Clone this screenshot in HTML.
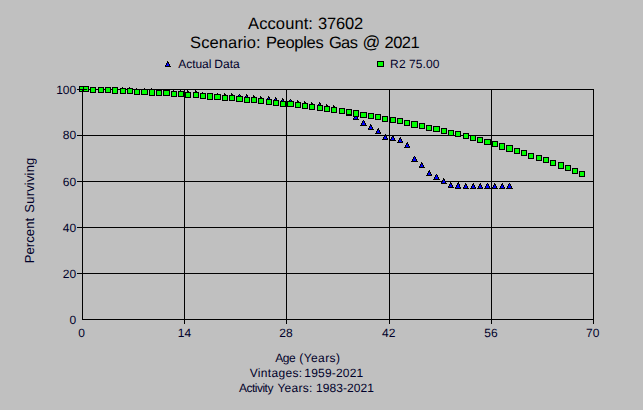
<!DOCTYPE html>
<html lang="en">
<head>
<meta charset="utf-8">
<title>Account 37602 - Percent Surviving</title>
<style>
html,body{margin:0;padding:0;background:#c0c0c0;overflow:hidden;}
body{width:643px;height:410px;font-family:"Liberation Sans",sans-serif;}
svg{display:block;position:absolute;left:0;top:0;}
</style>
</head>
<body>
<svg width="643" height="410" viewBox="0 0 643 410" shape-rendering="crispEdges">
<rect x="0" y="0" width="643" height="410" fill="#c0c0c0"/>
<g fill="#000">
<rect x="82" y="89" width="1" height="231"/>
<rect x="184" y="89" width="1" height="235"/>
<rect x="286" y="89" width="1" height="235"/>
<rect x="389" y="89" width="1" height="235"/>
<rect x="491" y="89" width="1" height="235"/>
<rect x="593" y="89" width="1" height="235"/>
<rect x="77" y="89" width="517" height="1"/>
<rect x="77" y="135" width="517" height="1"/>
<rect x="77" y="181" width="517" height="1"/>
<rect x="77" y="227" width="517" height="1"/>
<rect x="77" y="273" width="517" height="1"/>
<rect x="82" y="319" width="512" height="1"/>
</g>
<g>
<rect x="81" y="86" width="1" height="1" fill="#000"/><rect x="81" y="87" width="2" height="1" fill="#000"/><rect x="80" y="88" width="1" height="1" fill="#000"/><rect x="81" y="88" width="1" height="1" fill="#00f"/><rect x="82" y="88" width="1" height="1" fill="#000"/><rect x="80" y="89" width="1" height="1" fill="#000"/><rect x="81" y="89" width="2" height="1" fill="#00f"/><rect x="83" y="89" width="1" height="1" fill="#000"/><rect x="79" y="90" width="1" height="1" fill="#000"/><rect x="80" y="90" width="3" height="1" fill="#00f"/><rect x="83" y="90" width="1" height="1" fill="#000"/><rect x="79" y="91" width="6" height="1" fill="#000"/>
<rect x="85" y="86" width="1" height="1" fill="#000"/><rect x="85" y="87" width="2" height="1" fill="#000"/><rect x="84" y="88" width="1" height="1" fill="#000"/><rect x="85" y="88" width="1" height="1" fill="#00f"/><rect x="86" y="88" width="1" height="1" fill="#000"/><rect x="84" y="89" width="1" height="1" fill="#000"/><rect x="85" y="89" width="2" height="1" fill="#00f"/><rect x="87" y="89" width="1" height="1" fill="#000"/><rect x="83" y="90" width="1" height="1" fill="#000"/><rect x="84" y="90" width="3" height="1" fill="#00f"/><rect x="87" y="90" width="1" height="1" fill="#000"/><rect x="83" y="91" width="6" height="1" fill="#000"/>
<rect x="92" y="87" width="1" height="1" fill="#000"/><rect x="92" y="88" width="2" height="1" fill="#000"/><rect x="91" y="89" width="1" height="1" fill="#000"/><rect x="92" y="89" width="1" height="1" fill="#00f"/><rect x="93" y="89" width="1" height="1" fill="#000"/><rect x="91" y="90" width="1" height="1" fill="#000"/><rect x="92" y="90" width="2" height="1" fill="#00f"/><rect x="94" y="90" width="1" height="1" fill="#000"/><rect x="90" y="91" width="1" height="1" fill="#000"/><rect x="91" y="91" width="3" height="1" fill="#00f"/><rect x="94" y="91" width="1" height="1" fill="#000"/><rect x="90" y="92" width="6" height="1" fill="#000"/>
<rect x="100" y="87" width="1" height="1" fill="#000"/><rect x="100" y="88" width="2" height="1" fill="#000"/><rect x="99" y="89" width="1" height="1" fill="#000"/><rect x="100" y="89" width="1" height="1" fill="#00f"/><rect x="101" y="89" width="1" height="1" fill="#000"/><rect x="99" y="90" width="1" height="1" fill="#000"/><rect x="100" y="90" width="2" height="1" fill="#00f"/><rect x="102" y="90" width="1" height="1" fill="#000"/><rect x="98" y="91" width="1" height="1" fill="#000"/><rect x="99" y="91" width="3" height="1" fill="#00f"/><rect x="102" y="91" width="1" height="1" fill="#000"/><rect x="98" y="92" width="6" height="1" fill="#000"/>
<rect x="107" y="87" width="1" height="1" fill="#000"/><rect x="107" y="88" width="2" height="1" fill="#000"/><rect x="106" y="89" width="1" height="1" fill="#000"/><rect x="107" y="89" width="1" height="1" fill="#00f"/><rect x="108" y="89" width="1" height="1" fill="#000"/><rect x="106" y="90" width="1" height="1" fill="#000"/><rect x="107" y="90" width="2" height="1" fill="#00f"/><rect x="109" y="90" width="1" height="1" fill="#000"/><rect x="105" y="91" width="1" height="1" fill="#000"/><rect x="106" y="91" width="3" height="1" fill="#00f"/><rect x="109" y="91" width="1" height="1" fill="#000"/><rect x="105" y="92" width="6" height="1" fill="#000"/>
<rect x="114" y="87" width="1" height="1" fill="#000"/><rect x="114" y="88" width="2" height="1" fill="#000"/><rect x="113" y="89" width="1" height="1" fill="#000"/><rect x="114" y="89" width="1" height="1" fill="#00f"/><rect x="115" y="89" width="1" height="1" fill="#000"/><rect x="113" y="90" width="1" height="1" fill="#000"/><rect x="114" y="90" width="2" height="1" fill="#00f"/><rect x="116" y="90" width="1" height="1" fill="#000"/><rect x="112" y="91" width="1" height="1" fill="#000"/><rect x="113" y="91" width="3" height="1" fill="#00f"/><rect x="116" y="91" width="1" height="1" fill="#000"/><rect x="112" y="92" width="6" height="1" fill="#000"/>
<rect x="122" y="87" width="1" height="1" fill="#000"/><rect x="122" y="88" width="2" height="1" fill="#000"/><rect x="121" y="89" width="1" height="1" fill="#000"/><rect x="122" y="89" width="1" height="1" fill="#00f"/><rect x="123" y="89" width="1" height="1" fill="#000"/><rect x="121" y="90" width="1" height="1" fill="#000"/><rect x="122" y="90" width="2" height="1" fill="#00f"/><rect x="124" y="90" width="1" height="1" fill="#000"/><rect x="120" y="91" width="1" height="1" fill="#000"/><rect x="121" y="91" width="3" height="1" fill="#00f"/><rect x="124" y="91" width="1" height="1" fill="#000"/><rect x="120" y="92" width="6" height="1" fill="#000"/>
<rect x="129" y="87" width="1" height="1" fill="#000"/><rect x="129" y="88" width="2" height="1" fill="#000"/><rect x="128" y="89" width="1" height="1" fill="#000"/><rect x="129" y="89" width="1" height="1" fill="#00f"/><rect x="130" y="89" width="1" height="1" fill="#000"/><rect x="128" y="90" width="1" height="1" fill="#000"/><rect x="129" y="90" width="2" height="1" fill="#00f"/><rect x="131" y="90" width="1" height="1" fill="#000"/><rect x="127" y="91" width="1" height="1" fill="#000"/><rect x="128" y="91" width="3" height="1" fill="#00f"/><rect x="131" y="91" width="1" height="1" fill="#000"/><rect x="127" y="92" width="6" height="1" fill="#000"/>
<rect x="136" y="88" width="1" height="1" fill="#000"/><rect x="136" y="89" width="2" height="1" fill="#000"/><rect x="135" y="90" width="1" height="1" fill="#000"/><rect x="136" y="90" width="1" height="1" fill="#00f"/><rect x="137" y="90" width="1" height="1" fill="#000"/><rect x="135" y="91" width="1" height="1" fill="#000"/><rect x="136" y="91" width="2" height="1" fill="#00f"/><rect x="138" y="91" width="1" height="1" fill="#000"/><rect x="134" y="92" width="1" height="1" fill="#000"/><rect x="135" y="92" width="3" height="1" fill="#00f"/><rect x="138" y="92" width="1" height="1" fill="#000"/><rect x="134" y="93" width="6" height="1" fill="#000"/>
<rect x="144" y="88" width="1" height="1" fill="#000"/><rect x="143" y="89" width="1" height="1" fill="#000"/><rect x="144" y="89" width="1" height="1" fill="#00f"/><rect x="145" y="89" width="1" height="1" fill="#000"/><rect x="143" y="90" width="1" height="1" fill="#000"/><rect x="144" y="90" width="1" height="1" fill="#00f"/><rect x="145" y="90" width="1" height="1" fill="#000"/><rect x="142" y="91" width="1" height="1" fill="#000"/><rect x="143" y="91" width="3" height="1" fill="#00f"/><rect x="146" y="91" width="1" height="1" fill="#000"/><rect x="142" y="92" width="1" height="1" fill="#000"/><rect x="143" y="92" width="3" height="1" fill="#00f"/><rect x="146" y="92" width="1" height="1" fill="#000"/><rect x="141" y="93" width="7" height="1" fill="#000"/>
<rect x="151" y="88" width="1" height="1" fill="#000"/><rect x="151" y="89" width="2" height="1" fill="#000"/><rect x="150" y="90" width="1" height="1" fill="#000"/><rect x="151" y="90" width="1" height="1" fill="#00f"/><rect x="152" y="90" width="1" height="1" fill="#000"/><rect x="150" y="91" width="1" height="1" fill="#000"/><rect x="151" y="91" width="2" height="1" fill="#00f"/><rect x="153" y="91" width="1" height="1" fill="#000"/><rect x="149" y="92" width="1" height="1" fill="#000"/><rect x="150" y="92" width="3" height="1" fill="#00f"/><rect x="153" y="92" width="1" height="1" fill="#000"/><rect x="149" y="93" width="6" height="1" fill="#000"/>
<rect x="158" y="89" width="1" height="1" fill="#000"/><rect x="158" y="90" width="2" height="1" fill="#000"/><rect x="157" y="91" width="1" height="1" fill="#000"/><rect x="158" y="91" width="1" height="1" fill="#00f"/><rect x="159" y="91" width="1" height="1" fill="#000"/><rect x="157" y="92" width="1" height="1" fill="#000"/><rect x="158" y="92" width="2" height="1" fill="#00f"/><rect x="160" y="92" width="1" height="1" fill="#000"/><rect x="156" y="93" width="1" height="1" fill="#000"/><rect x="157" y="93" width="3" height="1" fill="#00f"/><rect x="160" y="93" width="1" height="1" fill="#000"/><rect x="156" y="94" width="6" height="1" fill="#000"/>
<rect x="166" y="89" width="1" height="1" fill="#000"/><rect x="165" y="90" width="1" height="1" fill="#000"/><rect x="166" y="90" width="1" height="1" fill="#00f"/><rect x="167" y="90" width="1" height="1" fill="#000"/><rect x="165" y="91" width="1" height="1" fill="#000"/><rect x="166" y="91" width="1" height="1" fill="#00f"/><rect x="167" y="91" width="1" height="1" fill="#000"/><rect x="164" y="92" width="1" height="1" fill="#000"/><rect x="165" y="92" width="3" height="1" fill="#00f"/><rect x="168" y="92" width="1" height="1" fill="#000"/><rect x="164" y="93" width="1" height="1" fill="#000"/><rect x="165" y="93" width="3" height="1" fill="#00f"/><rect x="168" y="93" width="1" height="1" fill="#000"/><rect x="163" y="94" width="7" height="1" fill="#000"/>
<rect x="173" y="90" width="1" height="1" fill="#000"/><rect x="173" y="91" width="2" height="1" fill="#000"/><rect x="172" y="92" width="1" height="1" fill="#000"/><rect x="173" y="92" width="1" height="1" fill="#00f"/><rect x="174" y="92" width="1" height="1" fill="#000"/><rect x="172" y="93" width="1" height="1" fill="#000"/><rect x="173" y="93" width="2" height="1" fill="#00f"/><rect x="175" y="93" width="1" height="1" fill="#000"/><rect x="171" y="94" width="1" height="1" fill="#000"/><rect x="172" y="94" width="3" height="1" fill="#00f"/><rect x="175" y="94" width="1" height="1" fill="#000"/><rect x="171" y="95" width="6" height="1" fill="#000"/>
<rect x="180" y="90" width="1" height="1" fill="#000"/><rect x="180" y="91" width="2" height="1" fill="#000"/><rect x="179" y="92" width="1" height="1" fill="#000"/><rect x="180" y="92" width="1" height="1" fill="#00f"/><rect x="181" y="92" width="1" height="1" fill="#000"/><rect x="179" y="93" width="1" height="1" fill="#000"/><rect x="180" y="93" width="2" height="1" fill="#00f"/><rect x="182" y="93" width="1" height="1" fill="#000"/><rect x="178" y="94" width="1" height="1" fill="#000"/><rect x="179" y="94" width="3" height="1" fill="#00f"/><rect x="182" y="94" width="1" height="1" fill="#000"/><rect x="178" y="95" width="6" height="1" fill="#000"/>
<rect x="187" y="90" width="1" height="1" fill="#000"/><rect x="187" y="91" width="2" height="1" fill="#000"/><rect x="186" y="92" width="1" height="1" fill="#000"/><rect x="187" y="92" width="1" height="1" fill="#00f"/><rect x="188" y="92" width="1" height="1" fill="#000"/><rect x="186" y="93" width="1" height="1" fill="#000"/><rect x="187" y="93" width="2" height="1" fill="#00f"/><rect x="189" y="93" width="1" height="1" fill="#000"/><rect x="185" y="94" width="1" height="1" fill="#000"/><rect x="186" y="94" width="3" height="1" fill="#00f"/><rect x="189" y="94" width="1" height="1" fill="#000"/><rect x="185" y="95" width="6" height="1" fill="#000"/>
<rect x="195" y="90" width="1" height="1" fill="#000"/><rect x="195" y="91" width="2" height="1" fill="#000"/><rect x="194" y="92" width="1" height="1" fill="#000"/><rect x="195" y="92" width="1" height="1" fill="#00f"/><rect x="196" y="92" width="1" height="1" fill="#000"/><rect x="194" y="93" width="1" height="1" fill="#000"/><rect x="195" y="93" width="2" height="1" fill="#00f"/><rect x="197" y="93" width="1" height="1" fill="#000"/><rect x="193" y="94" width="1" height="1" fill="#000"/><rect x="194" y="94" width="3" height="1" fill="#00f"/><rect x="197" y="94" width="1" height="1" fill="#000"/><rect x="193" y="95" width="6" height="1" fill="#000"/>
<rect x="202" y="92" width="1" height="1" fill="#000"/><rect x="202" y="93" width="2" height="1" fill="#000"/><rect x="201" y="94" width="1" height="1" fill="#000"/><rect x="202" y="94" width="1" height="1" fill="#00f"/><rect x="203" y="94" width="1" height="1" fill="#000"/><rect x="201" y="95" width="1" height="1" fill="#000"/><rect x="202" y="95" width="2" height="1" fill="#00f"/><rect x="204" y="95" width="1" height="1" fill="#000"/><rect x="200" y="96" width="1" height="1" fill="#000"/><rect x="201" y="96" width="3" height="1" fill="#00f"/><rect x="204" y="96" width="1" height="1" fill="#000"/><rect x="200" y="97" width="6" height="1" fill="#000"/>
<rect x="209" y="93" width="1" height="1" fill="#000"/><rect x="209" y="94" width="2" height="1" fill="#000"/><rect x="208" y="95" width="1" height="1" fill="#000"/><rect x="209" y="95" width="1" height="1" fill="#00f"/><rect x="210" y="95" width="1" height="1" fill="#000"/><rect x="208" y="96" width="1" height="1" fill="#000"/><rect x="209" y="96" width="2" height="1" fill="#00f"/><rect x="211" y="96" width="1" height="1" fill="#000"/><rect x="207" y="97" width="1" height="1" fill="#000"/><rect x="208" y="97" width="3" height="1" fill="#00f"/><rect x="211" y="97" width="1" height="1" fill="#000"/><rect x="207" y="98" width="6" height="1" fill="#000"/>
<rect x="217" y="93" width="1" height="1" fill="#000"/><rect x="216" y="94" width="1" height="1" fill="#000"/><rect x="217" y="94" width="1" height="1" fill="#00f"/><rect x="218" y="94" width="1" height="1" fill="#000"/><rect x="216" y="95" width="1" height="1" fill="#000"/><rect x="217" y="95" width="1" height="1" fill="#00f"/><rect x="218" y="95" width="1" height="1" fill="#000"/><rect x="215" y="96" width="1" height="1" fill="#000"/><rect x="216" y="96" width="3" height="1" fill="#00f"/><rect x="219" y="96" width="1" height="1" fill="#000"/><rect x="215" y="97" width="1" height="1" fill="#000"/><rect x="216" y="97" width="3" height="1" fill="#00f"/><rect x="219" y="97" width="1" height="1" fill="#000"/><rect x="214" y="98" width="7" height="1" fill="#000"/>
<rect x="224" y="93" width="1" height="1" fill="#000"/><rect x="224" y="94" width="2" height="1" fill="#000"/><rect x="223" y="95" width="1" height="1" fill="#000"/><rect x="224" y="95" width="1" height="1" fill="#00f"/><rect x="225" y="95" width="1" height="1" fill="#000"/><rect x="223" y="96" width="1" height="1" fill="#000"/><rect x="224" y="96" width="2" height="1" fill="#00f"/><rect x="226" y="96" width="1" height="1" fill="#000"/><rect x="222" y="97" width="1" height="1" fill="#000"/><rect x="223" y="97" width="3" height="1" fill="#00f"/><rect x="226" y="97" width="1" height="1" fill="#000"/><rect x="222" y="98" width="6" height="1" fill="#000"/>
<rect x="231" y="93" width="1" height="1" fill="#000"/><rect x="231" y="94" width="2" height="1" fill="#000"/><rect x="230" y="95" width="1" height="1" fill="#000"/><rect x="231" y="95" width="1" height="1" fill="#00f"/><rect x="232" y="95" width="1" height="1" fill="#000"/><rect x="230" y="96" width="1" height="1" fill="#000"/><rect x="231" y="96" width="2" height="1" fill="#00f"/><rect x="233" y="96" width="1" height="1" fill="#000"/><rect x="229" y="97" width="1" height="1" fill="#000"/><rect x="230" y="97" width="3" height="1" fill="#00f"/><rect x="233" y="97" width="1" height="1" fill="#000"/><rect x="229" y="98" width="6" height="1" fill="#000"/>
<rect x="239" y="94" width="1" height="1" fill="#000"/><rect x="238" y="95" width="1" height="1" fill="#000"/><rect x="239" y="95" width="1" height="1" fill="#00f"/><rect x="240" y="95" width="1" height="1" fill="#000"/><rect x="238" y="96" width="1" height="1" fill="#000"/><rect x="239" y="96" width="1" height="1" fill="#00f"/><rect x="240" y="96" width="1" height="1" fill="#000"/><rect x="237" y="97" width="1" height="1" fill="#000"/><rect x="238" y="97" width="3" height="1" fill="#00f"/><rect x="241" y="97" width="1" height="1" fill="#000"/><rect x="237" y="98" width="1" height="1" fill="#000"/><rect x="238" y="98" width="3" height="1" fill="#00f"/><rect x="241" y="98" width="1" height="1" fill="#000"/><rect x="236" y="99" width="7" height="1" fill="#000"/>
<rect x="246" y="94" width="1" height="1" fill="#000"/><rect x="246" y="95" width="2" height="1" fill="#000"/><rect x="245" y="96" width="1" height="1" fill="#000"/><rect x="246" y="96" width="1" height="1" fill="#00f"/><rect x="247" y="96" width="1" height="1" fill="#000"/><rect x="245" y="97" width="1" height="1" fill="#000"/><rect x="246" y="97" width="2" height="1" fill="#00f"/><rect x="248" y="97" width="1" height="1" fill="#000"/><rect x="244" y="98" width="1" height="1" fill="#000"/><rect x="245" y="98" width="3" height="1" fill="#00f"/><rect x="248" y="98" width="1" height="1" fill="#000"/><rect x="244" y="99" width="6" height="1" fill="#000"/>
<rect x="253" y="95" width="1" height="1" fill="#000"/><rect x="253" y="96" width="2" height="1" fill="#000"/><rect x="252" y="97" width="1" height="1" fill="#000"/><rect x="253" y="97" width="1" height="1" fill="#00f"/><rect x="254" y="97" width="1" height="1" fill="#000"/><rect x="252" y="98" width="1" height="1" fill="#000"/><rect x="253" y="98" width="2" height="1" fill="#00f"/><rect x="255" y="98" width="1" height="1" fill="#000"/><rect x="251" y="99" width="1" height="1" fill="#000"/><rect x="252" y="99" width="3" height="1" fill="#00f"/><rect x="255" y="99" width="1" height="1" fill="#000"/><rect x="251" y="100" width="6" height="1" fill="#000"/>
<rect x="260" y="96" width="1" height="1" fill="#000"/><rect x="260" y="97" width="2" height="1" fill="#000"/><rect x="259" y="98" width="1" height="1" fill="#000"/><rect x="260" y="98" width="1" height="1" fill="#00f"/><rect x="261" y="98" width="1" height="1" fill="#000"/><rect x="259" y="99" width="1" height="1" fill="#000"/><rect x="260" y="99" width="2" height="1" fill="#00f"/><rect x="262" y="99" width="1" height="1" fill="#000"/><rect x="258" y="100" width="1" height="1" fill="#000"/><rect x="259" y="100" width="3" height="1" fill="#00f"/><rect x="262" y="100" width="1" height="1" fill="#000"/><rect x="258" y="101" width="6" height="1" fill="#000"/>
<rect x="268" y="96" width="1" height="1" fill="#000"/><rect x="268" y="97" width="2" height="1" fill="#000"/><rect x="267" y="98" width="1" height="1" fill="#000"/><rect x="268" y="98" width="1" height="1" fill="#00f"/><rect x="269" y="98" width="1" height="1" fill="#000"/><rect x="267" y="99" width="1" height="1" fill="#000"/><rect x="268" y="99" width="2" height="1" fill="#00f"/><rect x="270" y="99" width="1" height="1" fill="#000"/><rect x="266" y="100" width="1" height="1" fill="#000"/><rect x="267" y="100" width="3" height="1" fill="#00f"/><rect x="270" y="100" width="1" height="1" fill="#000"/><rect x="266" y="101" width="6" height="1" fill="#000"/>
<rect x="275" y="97" width="1" height="1" fill="#000"/><rect x="275" y="98" width="2" height="1" fill="#000"/><rect x="274" y="99" width="1" height="1" fill="#000"/><rect x="275" y="99" width="1" height="1" fill="#00f"/><rect x="276" y="99" width="1" height="1" fill="#000"/><rect x="274" y="100" width="1" height="1" fill="#000"/><rect x="275" y="100" width="2" height="1" fill="#00f"/><rect x="277" y="100" width="1" height="1" fill="#000"/><rect x="273" y="101" width="1" height="1" fill="#000"/><rect x="274" y="101" width="3" height="1" fill="#00f"/><rect x="277" y="101" width="1" height="1" fill="#000"/><rect x="273" y="102" width="6" height="1" fill="#000"/>
<rect x="282" y="98" width="1" height="1" fill="#000"/><rect x="282" y="99" width="2" height="1" fill="#000"/><rect x="281" y="100" width="1" height="1" fill="#000"/><rect x="282" y="100" width="1" height="1" fill="#00f"/><rect x="283" y="100" width="1" height="1" fill="#000"/><rect x="281" y="101" width="1" height="1" fill="#000"/><rect x="282" y="101" width="2" height="1" fill="#00f"/><rect x="284" y="101" width="1" height="1" fill="#000"/><rect x="280" y="102" width="1" height="1" fill="#000"/><rect x="281" y="102" width="3" height="1" fill="#00f"/><rect x="284" y="102" width="1" height="1" fill="#000"/><rect x="280" y="103" width="6" height="1" fill="#000"/>
<rect x="290" y="99" width="1" height="1" fill="#000"/><rect x="289" y="100" width="1" height="1" fill="#000"/><rect x="290" y="100" width="1" height="1" fill="#00f"/><rect x="291" y="100" width="1" height="1" fill="#000"/><rect x="289" y="101" width="1" height="1" fill="#000"/><rect x="290" y="101" width="1" height="1" fill="#00f"/><rect x="291" y="101" width="1" height="1" fill="#000"/><rect x="288" y="102" width="1" height="1" fill="#000"/><rect x="289" y="102" width="3" height="1" fill="#00f"/><rect x="292" y="102" width="1" height="1" fill="#000"/><rect x="288" y="103" width="1" height="1" fill="#000"/><rect x="289" y="103" width="3" height="1" fill="#00f"/><rect x="292" y="103" width="1" height="1" fill="#000"/><rect x="287" y="104" width="7" height="1" fill="#000"/>
<rect x="297" y="100" width="1" height="1" fill="#000"/><rect x="297" y="101" width="2" height="1" fill="#000"/><rect x="296" y="102" width="1" height="1" fill="#000"/><rect x="297" y="102" width="1" height="1" fill="#00f"/><rect x="298" y="102" width="1" height="1" fill="#000"/><rect x="296" y="103" width="1" height="1" fill="#000"/><rect x="297" y="103" width="2" height="1" fill="#00f"/><rect x="299" y="103" width="1" height="1" fill="#000"/><rect x="295" y="104" width="1" height="1" fill="#000"/><rect x="296" y="104" width="3" height="1" fill="#00f"/><rect x="299" y="104" width="1" height="1" fill="#000"/><rect x="295" y="105" width="6" height="1" fill="#000"/>
<rect x="304" y="101" width="1" height="1" fill="#000"/><rect x="304" y="102" width="2" height="1" fill="#000"/><rect x="303" y="103" width="1" height="1" fill="#000"/><rect x="304" y="103" width="1" height="1" fill="#00f"/><rect x="305" y="103" width="1" height="1" fill="#000"/><rect x="303" y="104" width="1" height="1" fill="#000"/><rect x="304" y="104" width="2" height="1" fill="#00f"/><rect x="306" y="104" width="1" height="1" fill="#000"/><rect x="302" y="105" width="1" height="1" fill="#000"/><rect x="303" y="105" width="3" height="1" fill="#00f"/><rect x="306" y="105" width="1" height="1" fill="#000"/><rect x="302" y="106" width="6" height="1" fill="#000"/>
<rect x="311" y="102" width="1" height="1" fill="#000"/><rect x="311" y="103" width="2" height="1" fill="#000"/><rect x="310" y="104" width="1" height="1" fill="#000"/><rect x="311" y="104" width="1" height="1" fill="#00f"/><rect x="312" y="104" width="1" height="1" fill="#000"/><rect x="310" y="105" width="1" height="1" fill="#000"/><rect x="311" y="105" width="2" height="1" fill="#00f"/><rect x="313" y="105" width="1" height="1" fill="#000"/><rect x="309" y="106" width="1" height="1" fill="#000"/><rect x="310" y="106" width="3" height="1" fill="#00f"/><rect x="313" y="106" width="1" height="1" fill="#000"/><rect x="309" y="107" width="6" height="1" fill="#000"/>
<rect x="319" y="102" width="1" height="1" fill="#000"/><rect x="319" y="103" width="2" height="1" fill="#000"/><rect x="318" y="104" width="1" height="1" fill="#000"/><rect x="319" y="104" width="1" height="1" fill="#00f"/><rect x="320" y="104" width="1" height="1" fill="#000"/><rect x="318" y="105" width="1" height="1" fill="#000"/><rect x="319" y="105" width="2" height="1" fill="#00f"/><rect x="321" y="105" width="1" height="1" fill="#000"/><rect x="317" y="106" width="1" height="1" fill="#000"/><rect x="318" y="106" width="3" height="1" fill="#00f"/><rect x="321" y="106" width="1" height="1" fill="#000"/><rect x="317" y="107" width="6" height="1" fill="#000"/>
<rect x="326" y="104" width="1" height="1" fill="#000"/><rect x="326" y="105" width="2" height="1" fill="#000"/><rect x="325" y="106" width="1" height="1" fill="#000"/><rect x="326" y="106" width="1" height="1" fill="#00f"/><rect x="327" y="106" width="1" height="1" fill="#000"/><rect x="325" y="107" width="1" height="1" fill="#000"/><rect x="326" y="107" width="2" height="1" fill="#00f"/><rect x="328" y="107" width="1" height="1" fill="#000"/><rect x="324" y="108" width="1" height="1" fill="#000"/><rect x="325" y="108" width="3" height="1" fill="#00f"/><rect x="328" y="108" width="1" height="1" fill="#000"/><rect x="324" y="109" width="6" height="1" fill="#000"/>
<rect x="333" y="105" width="1" height="1" fill="#000"/><rect x="333" y="106" width="2" height="1" fill="#000"/><rect x="332" y="107" width="1" height="1" fill="#000"/><rect x="333" y="107" width="1" height="1" fill="#00f"/><rect x="334" y="107" width="1" height="1" fill="#000"/><rect x="332" y="108" width="1" height="1" fill="#000"/><rect x="333" y="108" width="2" height="1" fill="#00f"/><rect x="335" y="108" width="1" height="1" fill="#000"/><rect x="331" y="109" width="1" height="1" fill="#000"/><rect x="332" y="109" width="3" height="1" fill="#00f"/><rect x="335" y="109" width="1" height="1" fill="#000"/><rect x="331" y="110" width="6" height="1" fill="#000"/>
<rect x="341" y="108" width="1" height="1" fill="#000"/><rect x="341" y="109" width="2" height="1" fill="#000"/><rect x="340" y="110" width="1" height="1" fill="#000"/><rect x="341" y="110" width="1" height="1" fill="#00f"/><rect x="342" y="110" width="1" height="1" fill="#000"/><rect x="340" y="111" width="1" height="1" fill="#000"/><rect x="341" y="111" width="2" height="1" fill="#00f"/><rect x="343" y="111" width="1" height="1" fill="#000"/><rect x="339" y="112" width="1" height="1" fill="#000"/><rect x="340" y="112" width="3" height="1" fill="#00f"/><rect x="343" y="112" width="1" height="1" fill="#000"/><rect x="339" y="113" width="6" height="1" fill="#000"/>
<rect x="348" y="110" width="1" height="1" fill="#000"/><rect x="348" y="111" width="2" height="1" fill="#000"/><rect x="347" y="112" width="1" height="1" fill="#000"/><rect x="348" y="112" width="1" height="1" fill="#00f"/><rect x="349" y="112" width="1" height="1" fill="#000"/><rect x="347" y="113" width="1" height="1" fill="#000"/><rect x="348" y="113" width="2" height="1" fill="#00f"/><rect x="350" y="113" width="1" height="1" fill="#000"/><rect x="346" y="114" width="1" height="1" fill="#000"/><rect x="347" y="114" width="3" height="1" fill="#00f"/><rect x="350" y="114" width="1" height="1" fill="#000"/><rect x="346" y="115" width="6" height="1" fill="#000"/>
<rect x="355" y="114" width="1" height="1" fill="#000"/><rect x="355" y="115" width="2" height="1" fill="#000"/><rect x="354" y="116" width="1" height="1" fill="#000"/><rect x="355" y="116" width="1" height="1" fill="#00f"/><rect x="356" y="116" width="1" height="1" fill="#000"/><rect x="354" y="117" width="1" height="1" fill="#000"/><rect x="355" y="117" width="2" height="1" fill="#00f"/><rect x="357" y="117" width="1" height="1" fill="#000"/><rect x="353" y="118" width="1" height="1" fill="#000"/><rect x="354" y="118" width="3" height="1" fill="#00f"/><rect x="357" y="118" width="1" height="1" fill="#000"/><rect x="353" y="119" width="6" height="1" fill="#000"/>
<rect x="363" y="120" width="1" height="1" fill="#000"/><rect x="362" y="121" width="1" height="1" fill="#000"/><rect x="363" y="121" width="1" height="1" fill="#00f"/><rect x="364" y="121" width="1" height="1" fill="#000"/><rect x="362" y="122" width="1" height="1" fill="#000"/><rect x="363" y="122" width="1" height="1" fill="#00f"/><rect x="364" y="122" width="1" height="1" fill="#000"/><rect x="361" y="123" width="1" height="1" fill="#000"/><rect x="362" y="123" width="3" height="1" fill="#00f"/><rect x="365" y="123" width="1" height="1" fill="#000"/><rect x="361" y="124" width="1" height="1" fill="#000"/><rect x="362" y="124" width="3" height="1" fill="#00f"/><rect x="365" y="124" width="1" height="1" fill="#000"/><rect x="360" y="125" width="7" height="1" fill="#000"/>
<rect x="370" y="124" width="1" height="1" fill="#000"/><rect x="370" y="125" width="2" height="1" fill="#000"/><rect x="369" y="126" width="1" height="1" fill="#000"/><rect x="370" y="126" width="1" height="1" fill="#00f"/><rect x="371" y="126" width="1" height="1" fill="#000"/><rect x="369" y="127" width="1" height="1" fill="#000"/><rect x="370" y="127" width="2" height="1" fill="#00f"/><rect x="372" y="127" width="1" height="1" fill="#000"/><rect x="368" y="128" width="1" height="1" fill="#000"/><rect x="369" y="128" width="3" height="1" fill="#00f"/><rect x="372" y="128" width="1" height="1" fill="#000"/><rect x="368" y="129" width="6" height="1" fill="#000"/>
<rect x="378" y="128" width="1" height="1" fill="#000"/><rect x="377" y="129" width="2" height="1" fill="#000"/><rect x="377" y="130" width="1" height="1" fill="#000"/><rect x="378" y="130" width="1" height="1" fill="#00f"/><rect x="379" y="130" width="1" height="1" fill="#000"/><rect x="376" y="131" width="1" height="1" fill="#000"/><rect x="377" y="131" width="2" height="1" fill="#00f"/><rect x="379" y="131" width="1" height="1" fill="#000"/><rect x="376" y="132" width="1" height="1" fill="#000"/><rect x="377" y="132" width="3" height="1" fill="#00f"/><rect x="380" y="132" width="1" height="1" fill="#000"/><rect x="375" y="133" width="6" height="1" fill="#000"/>
<rect x="385" y="134" width="1" height="1" fill="#000"/><rect x="384" y="135" width="2" height="1" fill="#000"/><rect x="384" y="136" width="1" height="1" fill="#000"/><rect x="385" y="136" width="1" height="1" fill="#00f"/><rect x="386" y="136" width="1" height="1" fill="#000"/><rect x="383" y="137" width="1" height="1" fill="#000"/><rect x="384" y="137" width="2" height="1" fill="#00f"/><rect x="386" y="137" width="1" height="1" fill="#000"/><rect x="383" y="138" width="1" height="1" fill="#000"/><rect x="384" y="138" width="3" height="1" fill="#00f"/><rect x="387" y="138" width="1" height="1" fill="#000"/><rect x="382" y="139" width="6" height="1" fill="#000"/>
<rect x="392" y="135" width="1" height="1" fill="#000"/><rect x="392" y="136" width="2" height="1" fill="#000"/><rect x="391" y="137" width="1" height="1" fill="#000"/><rect x="392" y="137" width="1" height="1" fill="#00f"/><rect x="393" y="137" width="1" height="1" fill="#000"/><rect x="391" y="138" width="1" height="1" fill="#000"/><rect x="392" y="138" width="2" height="1" fill="#00f"/><rect x="394" y="138" width="1" height="1" fill="#000"/><rect x="390" y="139" width="1" height="1" fill="#000"/><rect x="391" y="139" width="3" height="1" fill="#00f"/><rect x="394" y="139" width="1" height="1" fill="#000"/><rect x="390" y="140" width="6" height="1" fill="#000"/>
<rect x="400" y="137" width="1" height="1" fill="#000"/><rect x="399" y="138" width="2" height="1" fill="#000"/><rect x="399" y="139" width="1" height="1" fill="#000"/><rect x="400" y="139" width="1" height="1" fill="#00f"/><rect x="401" y="139" width="1" height="1" fill="#000"/><rect x="398" y="140" width="1" height="1" fill="#000"/><rect x="399" y="140" width="2" height="1" fill="#00f"/><rect x="401" y="140" width="1" height="1" fill="#000"/><rect x="398" y="141" width="1" height="1" fill="#000"/><rect x="399" y="141" width="3" height="1" fill="#00f"/><rect x="402" y="141" width="1" height="1" fill="#000"/><rect x="397" y="142" width="6" height="1" fill="#000"/>
<rect x="407" y="142" width="1" height="1" fill="#000"/><rect x="406" y="143" width="2" height="1" fill="#000"/><rect x="406" y="144" width="1" height="1" fill="#000"/><rect x="407" y="144" width="1" height="1" fill="#00f"/><rect x="408" y="144" width="1" height="1" fill="#000"/><rect x="405" y="145" width="1" height="1" fill="#000"/><rect x="406" y="145" width="2" height="1" fill="#00f"/><rect x="408" y="145" width="1" height="1" fill="#000"/><rect x="405" y="146" width="1" height="1" fill="#000"/><rect x="406" y="146" width="3" height="1" fill="#00f"/><rect x="409" y="146" width="1" height="1" fill="#000"/><rect x="404" y="147" width="6" height="1" fill="#000"/>
<rect x="414" y="156" width="1" height="1" fill="#000"/><rect x="413" y="157" width="1" height="1" fill="#000"/><rect x="414" y="157" width="1" height="1" fill="#00f"/><rect x="415" y="157" width="1" height="1" fill="#000"/><rect x="413" y="158" width="1" height="1" fill="#000"/><rect x="414" y="158" width="1" height="1" fill="#00f"/><rect x="415" y="158" width="1" height="1" fill="#000"/><rect x="412" y="159" width="1" height="1" fill="#000"/><rect x="413" y="159" width="3" height="1" fill="#00f"/><rect x="416" y="159" width="1" height="1" fill="#000"/><rect x="412" y="160" width="1" height="1" fill="#000"/><rect x="413" y="160" width="3" height="1" fill="#00f"/><rect x="416" y="160" width="1" height="1" fill="#000"/><rect x="411" y="161" width="7" height="1" fill="#000"/>
<rect x="421" y="162" width="1" height="1" fill="#000"/><rect x="421" y="163" width="2" height="1" fill="#000"/><rect x="420" y="164" width="1" height="1" fill="#000"/><rect x="421" y="164" width="1" height="1" fill="#00f"/><rect x="422" y="164" width="1" height="1" fill="#000"/><rect x="420" y="165" width="1" height="1" fill="#000"/><rect x="421" y="165" width="2" height="1" fill="#00f"/><rect x="423" y="165" width="1" height="1" fill="#000"/><rect x="419" y="166" width="1" height="1" fill="#000"/><rect x="420" y="166" width="3" height="1" fill="#00f"/><rect x="423" y="166" width="1" height="1" fill="#000"/><rect x="419" y="167" width="6" height="1" fill="#000"/>
<rect x="429" y="170" width="1" height="1" fill="#000"/><rect x="428" y="171" width="2" height="1" fill="#000"/><rect x="428" y="172" width="1" height="1" fill="#000"/><rect x="429" y="172" width="1" height="1" fill="#00f"/><rect x="430" y="172" width="1" height="1" fill="#000"/><rect x="427" y="173" width="1" height="1" fill="#000"/><rect x="428" y="173" width="2" height="1" fill="#00f"/><rect x="430" y="173" width="1" height="1" fill="#000"/><rect x="427" y="174" width="1" height="1" fill="#000"/><rect x="428" y="174" width="3" height="1" fill="#00f"/><rect x="431" y="174" width="1" height="1" fill="#000"/><rect x="426" y="175" width="6" height="1" fill="#000"/>
<rect x="436" y="174" width="1" height="1" fill="#000"/><rect x="435" y="175" width="1" height="1" fill="#000"/><rect x="436" y="175" width="1" height="1" fill="#00f"/><rect x="437" y="175" width="1" height="1" fill="#000"/><rect x="435" y="176" width="1" height="1" fill="#000"/><rect x="436" y="176" width="1" height="1" fill="#00f"/><rect x="437" y="176" width="1" height="1" fill="#000"/><rect x="434" y="177" width="1" height="1" fill="#000"/><rect x="435" y="177" width="3" height="1" fill="#00f"/><rect x="438" y="177" width="1" height="1" fill="#000"/><rect x="434" y="178" width="1" height="1" fill="#000"/><rect x="435" y="178" width="3" height="1" fill="#00f"/><rect x="438" y="178" width="1" height="1" fill="#000"/><rect x="433" y="179" width="7" height="1" fill="#000"/>
<rect x="443" y="178" width="1" height="1" fill="#000"/><rect x="443" y="179" width="2" height="1" fill="#000"/><rect x="442" y="180" width="1" height="1" fill="#000"/><rect x="443" y="180" width="1" height="1" fill="#00f"/><rect x="444" y="180" width="1" height="1" fill="#000"/><rect x="442" y="181" width="1" height="1" fill="#000"/><rect x="443" y="181" width="2" height="1" fill="#00f"/><rect x="445" y="181" width="1" height="1" fill="#000"/><rect x="441" y="182" width="1" height="1" fill="#000"/><rect x="442" y="182" width="3" height="1" fill="#00f"/><rect x="445" y="182" width="1" height="1" fill="#000"/><rect x="441" y="183" width="6" height="1" fill="#000"/>
<rect x="450" y="182" width="1" height="1" fill="#000"/><rect x="450" y="183" width="2" height="1" fill="#000"/><rect x="449" y="184" width="1" height="1" fill="#000"/><rect x="450" y="184" width="1" height="1" fill="#00f"/><rect x="451" y="184" width="1" height="1" fill="#000"/><rect x="449" y="185" width="1" height="1" fill="#000"/><rect x="450" y="185" width="2" height="1" fill="#00f"/><rect x="452" y="185" width="1" height="1" fill="#000"/><rect x="448" y="186" width="1" height="1" fill="#000"/><rect x="449" y="186" width="3" height="1" fill="#00f"/><rect x="452" y="186" width="1" height="1" fill="#000"/><rect x="448" y="187" width="6" height="1" fill="#000"/>
<rect x="458" y="182" width="1" height="1" fill="#000"/><rect x="457" y="183" width="2" height="1" fill="#000"/><rect x="457" y="184" width="1" height="1" fill="#000"/><rect x="458" y="184" width="1" height="1" fill="#00f"/><rect x="459" y="184" width="1" height="1" fill="#000"/><rect x="456" y="185" width="1" height="1" fill="#000"/><rect x="457" y="185" width="2" height="1" fill="#00f"/><rect x="459" y="185" width="1" height="1" fill="#000"/><rect x="456" y="186" width="1" height="1" fill="#000"/><rect x="457" y="186" width="2" height="1" fill="#00f"/><rect x="459" y="186" width="1" height="1" fill="#000"/><rect x="455" y="187" width="1" height="1" fill="#000"/><rect x="456" y="187" width="4" height="1" fill="#00f"/><rect x="460" y="187" width="1" height="1" fill="#000"/><rect x="455" y="188" width="6" height="1" fill="#000"/>
<rect x="465" y="183" width="1" height="1" fill="#000"/><rect x="465" y="184" width="2" height="1" fill="#000"/><rect x="464" y="185" width="1" height="1" fill="#000"/><rect x="465" y="185" width="1" height="1" fill="#00f"/><rect x="466" y="185" width="1" height="1" fill="#000"/><rect x="464" y="186" width="1" height="1" fill="#000"/><rect x="465" y="186" width="2" height="1" fill="#00f"/><rect x="467" y="186" width="1" height="1" fill="#000"/><rect x="463" y="187" width="1" height="1" fill="#000"/><rect x="464" y="187" width="3" height="1" fill="#00f"/><rect x="467" y="187" width="1" height="1" fill="#000"/><rect x="463" y="188" width="6" height="1" fill="#000"/>
<rect x="473" y="183" width="1" height="1" fill="#000"/><rect x="472" y="184" width="2" height="1" fill="#000"/><rect x="472" y="185" width="1" height="1" fill="#000"/><rect x="473" y="185" width="1" height="1" fill="#00f"/><rect x="474" y="185" width="1" height="1" fill="#000"/><rect x="471" y="186" width="1" height="1" fill="#000"/><rect x="472" y="186" width="2" height="1" fill="#00f"/><rect x="474" y="186" width="1" height="1" fill="#000"/><rect x="471" y="187" width="1" height="1" fill="#000"/><rect x="472" y="187" width="3" height="1" fill="#00f"/><rect x="475" y="187" width="1" height="1" fill="#000"/><rect x="470" y="188" width="6" height="1" fill="#000"/>
<rect x="480" y="183" width="1" height="1" fill="#000"/><rect x="479" y="184" width="2" height="1" fill="#000"/><rect x="479" y="185" width="1" height="1" fill="#000"/><rect x="480" y="185" width="1" height="1" fill="#00f"/><rect x="481" y="185" width="1" height="1" fill="#000"/><rect x="478" y="186" width="1" height="1" fill="#000"/><rect x="479" y="186" width="2" height="1" fill="#00f"/><rect x="481" y="186" width="1" height="1" fill="#000"/><rect x="478" y="187" width="1" height="1" fill="#000"/><rect x="479" y="187" width="3" height="1" fill="#00f"/><rect x="482" y="187" width="1" height="1" fill="#000"/><rect x="477" y="188" width="6" height="1" fill="#000"/>
<rect x="487" y="183" width="1" height="1" fill="#000"/><rect x="486" y="184" width="1" height="1" fill="#000"/><rect x="487" y="184" width="1" height="1" fill="#00f"/><rect x="488" y="184" width="1" height="1" fill="#000"/><rect x="486" y="185" width="1" height="1" fill="#000"/><rect x="487" y="185" width="1" height="1" fill="#00f"/><rect x="488" y="185" width="1" height="1" fill="#000"/><rect x="485" y="186" width="1" height="1" fill="#000"/><rect x="486" y="186" width="3" height="1" fill="#00f"/><rect x="489" y="186" width="1" height="1" fill="#000"/><rect x="485" y="187" width="1" height="1" fill="#000"/><rect x="486" y="187" width="3" height="1" fill="#00f"/><rect x="489" y="187" width="1" height="1" fill="#000"/><rect x="484" y="188" width="7" height="1" fill="#000"/>
<rect x="494" y="183" width="1" height="1" fill="#000"/><rect x="494" y="184" width="2" height="1" fill="#000"/><rect x="493" y="185" width="1" height="1" fill="#000"/><rect x="494" y="185" width="1" height="1" fill="#00f"/><rect x="495" y="185" width="1" height="1" fill="#000"/><rect x="493" y="186" width="1" height="1" fill="#000"/><rect x="494" y="186" width="2" height="1" fill="#00f"/><rect x="496" y="186" width="1" height="1" fill="#000"/><rect x="492" y="187" width="1" height="1" fill="#000"/><rect x="493" y="187" width="3" height="1" fill="#00f"/><rect x="496" y="187" width="1" height="1" fill="#000"/><rect x="492" y="188" width="6" height="1" fill="#000"/>
<rect x="502" y="183" width="1" height="1" fill="#000"/><rect x="501" y="184" width="2" height="1" fill="#000"/><rect x="501" y="185" width="1" height="1" fill="#000"/><rect x="502" y="185" width="1" height="1" fill="#00f"/><rect x="503" y="185" width="1" height="1" fill="#000"/><rect x="500" y="186" width="1" height="1" fill="#000"/><rect x="501" y="186" width="2" height="1" fill="#00f"/><rect x="503" y="186" width="1" height="1" fill="#000"/><rect x="500" y="187" width="1" height="1" fill="#000"/><rect x="501" y="187" width="3" height="1" fill="#00f"/><rect x="504" y="187" width="1" height="1" fill="#000"/><rect x="499" y="188" width="6" height="1" fill="#000"/>
<rect x="509" y="183" width="1" height="1" fill="#000"/><rect x="508" y="184" width="1" height="1" fill="#000"/><rect x="509" y="184" width="1" height="1" fill="#00f"/><rect x="510" y="184" width="1" height="1" fill="#000"/><rect x="508" y="185" width="1" height="1" fill="#000"/><rect x="509" y="185" width="1" height="1" fill="#00f"/><rect x="510" y="185" width="1" height="1" fill="#000"/><rect x="507" y="186" width="1" height="1" fill="#000"/><rect x="508" y="186" width="3" height="1" fill="#00f"/><rect x="511" y="186" width="1" height="1" fill="#000"/><rect x="507" y="187" width="1" height="1" fill="#000"/><rect x="508" y="187" width="3" height="1" fill="#00f"/><rect x="511" y="187" width="1" height="1" fill="#000"/><rect x="506" y="188" width="7" height="1" fill="#000"/>
</g>
<g>
<rect x="79" y="86" width="6" height="6" fill="#000"/><rect x="80" y="87" width="4" height="4" fill="#0f0"/>
<rect x="83" y="86" width="6" height="6" fill="#000"/><rect x="84" y="87" width="4" height="4" fill="#0f0"/>
<rect x="90" y="87" width="6" height="6" fill="#000"/><rect x="91" y="88" width="4" height="4" fill="#0f0"/>
<rect x="98" y="87" width="6" height="6" fill="#000"/><rect x="99" y="88" width="4" height="4" fill="#0f0"/>
<rect x="105" y="87" width="6" height="6" fill="#000"/><rect x="106" y="88" width="4" height="4" fill="#0f0"/>
<rect x="112" y="87" width="6" height="7" fill="#000"/><rect x="113" y="88" width="4" height="5" fill="#0f0"/>
<rect x="120" y="88" width="6" height="6" fill="#000"/><rect x="121" y="89" width="4" height="4" fill="#0f0"/>
<rect x="127" y="88" width="6" height="6" fill="#000"/><rect x="128" y="89" width="4" height="4" fill="#0f0"/>
<rect x="134" y="89" width="6" height="6" fill="#000"/><rect x="135" y="90" width="4" height="4" fill="#0f0"/>
<rect x="141" y="89" width="7" height="6" fill="#000"/><rect x="142" y="90" width="5" height="4" fill="#0f0"/>
<rect x="149" y="89" width="6" height="7" fill="#000"/><rect x="150" y="90" width="4" height="5" fill="#0f0"/>
<rect x="156" y="90" width="6" height="6" fill="#000"/><rect x="157" y="91" width="4" height="4" fill="#0f0"/>
<rect x="163" y="90" width="7" height="6" fill="#000"/><rect x="164" y="91" width="5" height="4" fill="#0f0"/>
<rect x="171" y="91" width="6" height="6" fill="#000"/><rect x="172" y="92" width="4" height="4" fill="#0f0"/>
<rect x="178" y="91" width="6" height="6" fill="#000"/><rect x="179" y="92" width="4" height="4" fill="#0f0"/>
<rect x="185" y="92" width="6" height="6" fill="#000"/><rect x="186" y="93" width="4" height="4" fill="#0f0"/>
<rect x="193" y="92" width="6" height="6" fill="#000"/><rect x="194" y="93" width="4" height="4" fill="#0f0"/>
<rect x="200" y="93" width="6" height="6" fill="#000"/><rect x="201" y="94" width="4" height="4" fill="#0f0"/>
<rect x="207" y="93" width="6" height="7" fill="#000"/><rect x="208" y="94" width="4" height="5" fill="#0f0"/>
<rect x="214" y="94" width="7" height="6" fill="#000"/><rect x="215" y="95" width="5" height="4" fill="#0f0"/>
<rect x="222" y="95" width="6" height="6" fill="#000"/><rect x="223" y="96" width="4" height="4" fill="#0f0"/>
<rect x="229" y="95" width="6" height="6" fill="#000"/><rect x="230" y="96" width="4" height="4" fill="#0f0"/>
<rect x="236" y="96" width="7" height="6" fill="#000"/><rect x="237" y="97" width="5" height="4" fill="#0f0"/>
<rect x="244" y="97" width="6" height="6" fill="#000"/><rect x="245" y="98" width="4" height="4" fill="#0f0"/>
<rect x="251" y="97" width="6" height="6" fill="#000"/><rect x="252" y="98" width="4" height="4" fill="#0f0"/>
<rect x="258" y="98" width="6" height="6" fill="#000"/><rect x="259" y="99" width="4" height="4" fill="#0f0"/>
<rect x="266" y="99" width="6" height="6" fill="#000"/><rect x="267" y="100" width="4" height="4" fill="#0f0"/>
<rect x="273" y="100" width="6" height="6" fill="#000"/><rect x="274" y="101" width="4" height="4" fill="#0f0"/>
<rect x="280" y="101" width="6" height="6" fill="#000"/><rect x="281" y="102" width="4" height="4" fill="#0f0"/>
<rect x="287" y="101" width="7" height="6" fill="#000"/><rect x="288" y="102" width="5" height="4" fill="#0f0"/>
<rect x="295" y="102" width="6" height="6" fill="#000"/><rect x="296" y="103" width="4" height="4" fill="#0f0"/>
<rect x="302" y="103" width="6" height="6" fill="#000"/><rect x="303" y="104" width="4" height="4" fill="#0f0"/>
<rect x="309" y="104" width="6" height="6" fill="#000"/><rect x="310" y="105" width="4" height="4" fill="#0f0"/>
<rect x="317" y="105" width="6" height="6" fill="#000"/><rect x="318" y="106" width="4" height="4" fill="#0f0"/>
<rect x="324" y="106" width="6" height="6" fill="#000"/><rect x="325" y="107" width="4" height="4" fill="#0f0"/>
<rect x="331" y="107" width="6" height="6" fill="#000"/><rect x="332" y="108" width="4" height="4" fill="#0f0"/>
<rect x="339" y="108" width="6" height="6" fill="#000"/><rect x="340" y="109" width="4" height="4" fill="#0f0"/>
<rect x="346" y="109" width="6" height="6" fill="#000"/><rect x="347" y="110" width="4" height="4" fill="#0f0"/>
<rect x="353" y="110" width="6" height="7" fill="#000"/><rect x="354" y="111" width="4" height="5" fill="#0f0"/>
<rect x="360" y="112" width="7" height="6" fill="#000"/><rect x="361" y="113" width="5" height="4" fill="#0f0"/>
<rect x="368" y="113" width="6" height="6" fill="#000"/><rect x="369" y="114" width="4" height="4" fill="#0f0"/>
<rect x="375" y="114" width="6" height="6" fill="#000"/><rect x="376" y="115" width="4" height="4" fill="#0f0"/>
<rect x="382" y="116" width="6" height="6" fill="#000"/><rect x="383" y="117" width="4" height="4" fill="#0f0"/>
<rect x="390" y="117" width="6" height="6" fill="#000"/><rect x="391" y="118" width="4" height="4" fill="#0f0"/>
<rect x="397" y="118" width="6" height="6" fill="#000"/><rect x="398" y="119" width="4" height="4" fill="#0f0"/>
<rect x="404" y="120" width="6" height="6" fill="#000"/><rect x="405" y="121" width="4" height="4" fill="#0f0"/>
<rect x="411" y="121" width="7" height="7" fill="#000"/><rect x="412" y="122" width="5" height="5" fill="#0f0"/>
<rect x="419" y="123" width="6" height="6" fill="#000"/><rect x="420" y="124" width="4" height="4" fill="#0f0"/>
<rect x="426" y="125" width="6" height="6" fill="#000"/><rect x="427" y="126" width="4" height="4" fill="#0f0"/>
<rect x="433" y="126" width="7" height="6" fill="#000"/><rect x="434" y="127" width="5" height="4" fill="#0f0"/>
<rect x="441" y="128" width="6" height="6" fill="#000"/><rect x="442" y="129" width="4" height="4" fill="#0f0"/>
<rect x="448" y="130" width="6" height="6" fill="#000"/><rect x="449" y="131" width="4" height="4" fill="#0f0"/>
<rect x="455" y="131" width="6" height="6" fill="#000"/><rect x="456" y="132" width="4" height="4" fill="#0f0"/>
<rect x="463" y="133" width="6" height="6" fill="#000"/><rect x="464" y="134" width="4" height="4" fill="#0f0"/>
<rect x="470" y="135" width="6" height="6" fill="#000"/><rect x="471" y="136" width="4" height="4" fill="#0f0"/>
<rect x="477" y="137" width="6" height="6" fill="#000"/><rect x="478" y="138" width="4" height="4" fill="#0f0"/>
<rect x="484" y="139" width="7" height="6" fill="#000"/><rect x="485" y="140" width="5" height="4" fill="#0f0"/>
<rect x="492" y="141" width="6" height="6" fill="#000"/><rect x="493" y="142" width="4" height="4" fill="#0f0"/>
<rect x="499" y="143" width="6" height="7" fill="#000"/><rect x="500" y="144" width="4" height="5" fill="#0f0"/>
<rect x="506" y="145" width="7" height="7" fill="#000"/><rect x="507" y="146" width="5" height="5" fill="#0f0"/>
<rect x="514" y="148" width="6" height="6" fill="#000"/><rect x="515" y="149" width="4" height="4" fill="#0f0"/>
<rect x="521" y="150" width="6" height="6" fill="#000"/><rect x="522" y="151" width="4" height="4" fill="#0f0"/>
<rect x="528" y="153" width="6" height="6" fill="#000"/><rect x="529" y="154" width="4" height="4" fill="#0f0"/>
<rect x="536" y="155" width="6" height="6" fill="#000"/><rect x="537" y="156" width="4" height="4" fill="#0f0"/>
<rect x="543" y="157" width="6" height="6" fill="#000"/><rect x="544" y="158" width="4" height="4" fill="#0f0"/>
<rect x="550" y="160" width="6" height="6" fill="#000"/><rect x="551" y="161" width="4" height="4" fill="#0f0"/>
<rect x="558" y="162" width="6" height="7" fill="#000"/><rect x="559" y="163" width="4" height="5" fill="#0f0"/>
<rect x="565" y="165" width="6" height="6" fill="#000"/><rect x="566" y="166" width="4" height="4" fill="#0f0"/>
<rect x="572" y="168" width="6" height="6" fill="#000"/><rect x="573" y="169" width="4" height="4" fill="#0f0"/>
<rect x="579" y="171" width="6" height="6" fill="#000"/><rect x="580" y="172" width="4" height="4" fill="#0f0"/>
</g>
<rect x="80" y="89" width="7" height="1" fill="#000"/><rect x="82" y="90" width="1" height="1" fill="#000"/>
<rect x="167" y="61" width="1" height="1" fill="#000"/><rect x="167" y="62" width="2" height="1" fill="#000"/><rect x="166" y="63" width="1" height="1" fill="#000"/><rect x="167" y="63" width="1" height="1" fill="#00f"/><rect x="168" y="63" width="1" height="1" fill="#000"/><rect x="166" y="64" width="1" height="1" fill="#000"/><rect x="167" y="64" width="2" height="1" fill="#00f"/><rect x="169" y="64" width="1" height="1" fill="#000"/><rect x="165" y="65" width="1" height="1" fill="#000"/><rect x="166" y="65" width="3" height="1" fill="#00f"/><rect x="169" y="65" width="1" height="1" fill="#000"/><rect x="165" y="66" width="6" height="1" fill="#000"/>
<rect x="377" y="61" width="7" height="6" fill="#000"/><rect x="378" y="62" width="5" height="4" fill="#0f0"/>
<g font-family="'Liberation Sans', sans-serif" shape-rendering="auto" text-rendering="geometricPrecision">
<g fill="#000">
<text x="248.05" y="29" font-size="16.5" letter-spacing="0.1">Account:</text>
<text x="317.98" y="29" font-size="16.5" letter-spacing="-0.175">37602</text>
<text x="190.05" y="48" font-size="16.5" letter-spacing="0.112">Scenario:</text>
<text x="265.92" y="48" font-size="16.5" letter-spacing="-0.304">Peoples</text>
<text x="328.92" y="48" font-size="16.5" letter-spacing="-0.625">Gas</text>
<text x="384.52" y="48" font-size="16.5" letter-spacing="-0.533">2021</text>
<text x="362.52" y="48.4" font-size="17.5">@</text>
</g>
<g font-size="12" fill="#00002a">
<text x="178.3" y="68" font-size="12" letter-spacing="-0.06">Actual</text>
<text x="214.3" y="68" font-size="12" letter-spacing="0.042">Data</text>
<text x="389.9" y="68" font-size="12" letter-spacing="0.55">R2</text>
<text x="408.92" y="68" font-size="12" letter-spacing="0.144">75.00</text>
<text x="275.2" y="362" font-size="12" letter-spacing="-0.487">Age</text>
<text x="299.3" y="362" font-size="12" letter-spacing="0.4">(Years)</text>
<text x="249.78" y="377" font-size="12" letter-spacing="0.316">Vintages:</text>
<text x="304.32" y="377" font-size="12" letter-spacing="0.191">1959-2021</text>
<text x="239.1" y="392" font-size="12" letter-spacing="-0.525">Activity</text>
<text x="277.45" y="392" font-size="12" letter-spacing="0.27">Years:</text>
<text x="315.92" y="392" font-size="12" letter-spacing="0.091">1983-2021</text>
<g transform="translate(34,262.1) rotate(-90)"><text x="-1.12" y="0" font-size="13" letter-spacing="0.079">Percent</text><text x="49.48" y="0" font-size="13" letter-spacing="0.187">Surviving</text></g>
<text x="76.2" y="94" text-anchor="end">100</text>
<text x="76.2" y="139" text-anchor="end">80</text>
<text x="76.2" y="186" text-anchor="end">60</text>
<text x="76.2" y="232" text-anchor="end">40</text>
<text x="76.2" y="278" text-anchor="end">20</text>
<text x="76.2" y="324" text-anchor="end">0</text>
<text x="81.6" y="337" text-anchor="middle">0</text>
<text x="184.5" y="337" text-anchor="middle">14</text>
<text x="286" y="337" text-anchor="middle">28</text>
<text x="388.8" y="337" text-anchor="middle">42</text>
<text x="491" y="337" text-anchor="middle">56</text>
<text x="592.8" y="337" text-anchor="middle">70</text>
</g></g>
</svg>
</body>
</html>
